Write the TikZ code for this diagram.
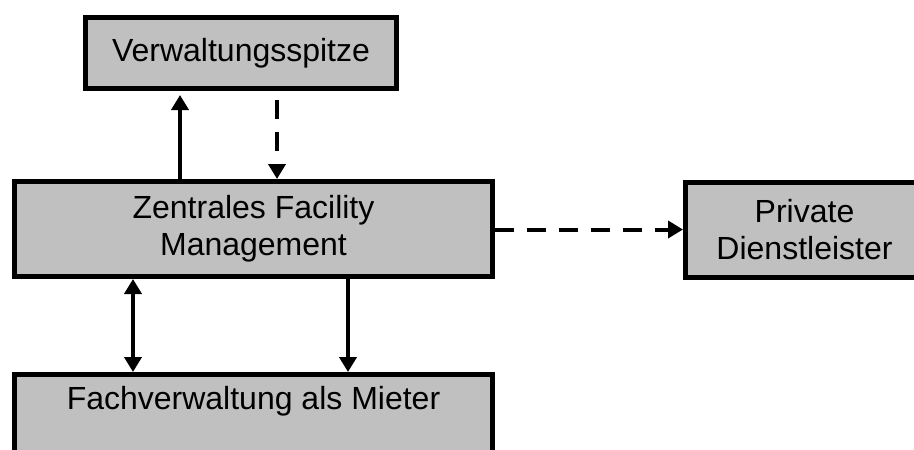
\documentclass[tikz,border=0pt]{standalone}
\usepackage{fontspec}
\setmainfont{Liberation Sans}
\usetikzlibrary{arrows.meta}
\definecolor{boxgray}{RGB}{192,192,192}
\begin{document}
\begin{tikzpicture}[x=1pt,y=-1pt,
  >={Triangle[length=15pt,width=17pt]},
  box/.style={draw=black, fill=boxgray, line width=5pt, rectangle, inner sep=0pt, align=center, font=\fontsize{32}{37}\selectfont},
  conn/.style={line width=4pt},
  dconn/.style={conn, dash pattern=on 19pt off 13pt}]
\useasboundingbox (0,0) rectangle (914,450);
\clip (0,0) rectangle (914,450);
\node[box, minimum width=311pt, minimum height=71pt] (V) at (241,53) {Verwaltungsspitze};
\node[box, minimum width=478pt, minimum height=95pt] (Z) at (253.5,229) {Zentrales Facility\\Management};
\node[box, minimum width=238pt, minimum height=95pt] (P) at (804.5,229.5) {Private\\Dienstleister};
\node[box, minimum width=478pt, minimum height=95pt] (F) at (253.5,422) {Fachverwaltung als Mieter\\\strut};
\coordinate (xa) at (180,0);
\coordinate (xb) at (277,0);
\coordinate (xc) at (133,0);
\coordinate (xd) at (348,0);
\draw[conn,->,shorten >=4pt] (Z.north -| xa) -- (V.south -| xa);
\draw[dconn,->,shorten <=9pt] (V.south -| xb) -- (Z.north -| xb);
\draw[dconn,->] (Z.east |- P.west) -- (P.west);
\draw[conn,<->] (Z.south -| xc) -- (F.north -| xc);
\draw[conn,->] (Z.south -| xd) -- (F.north -| xd);
\end{tikzpicture}
\end{document}
